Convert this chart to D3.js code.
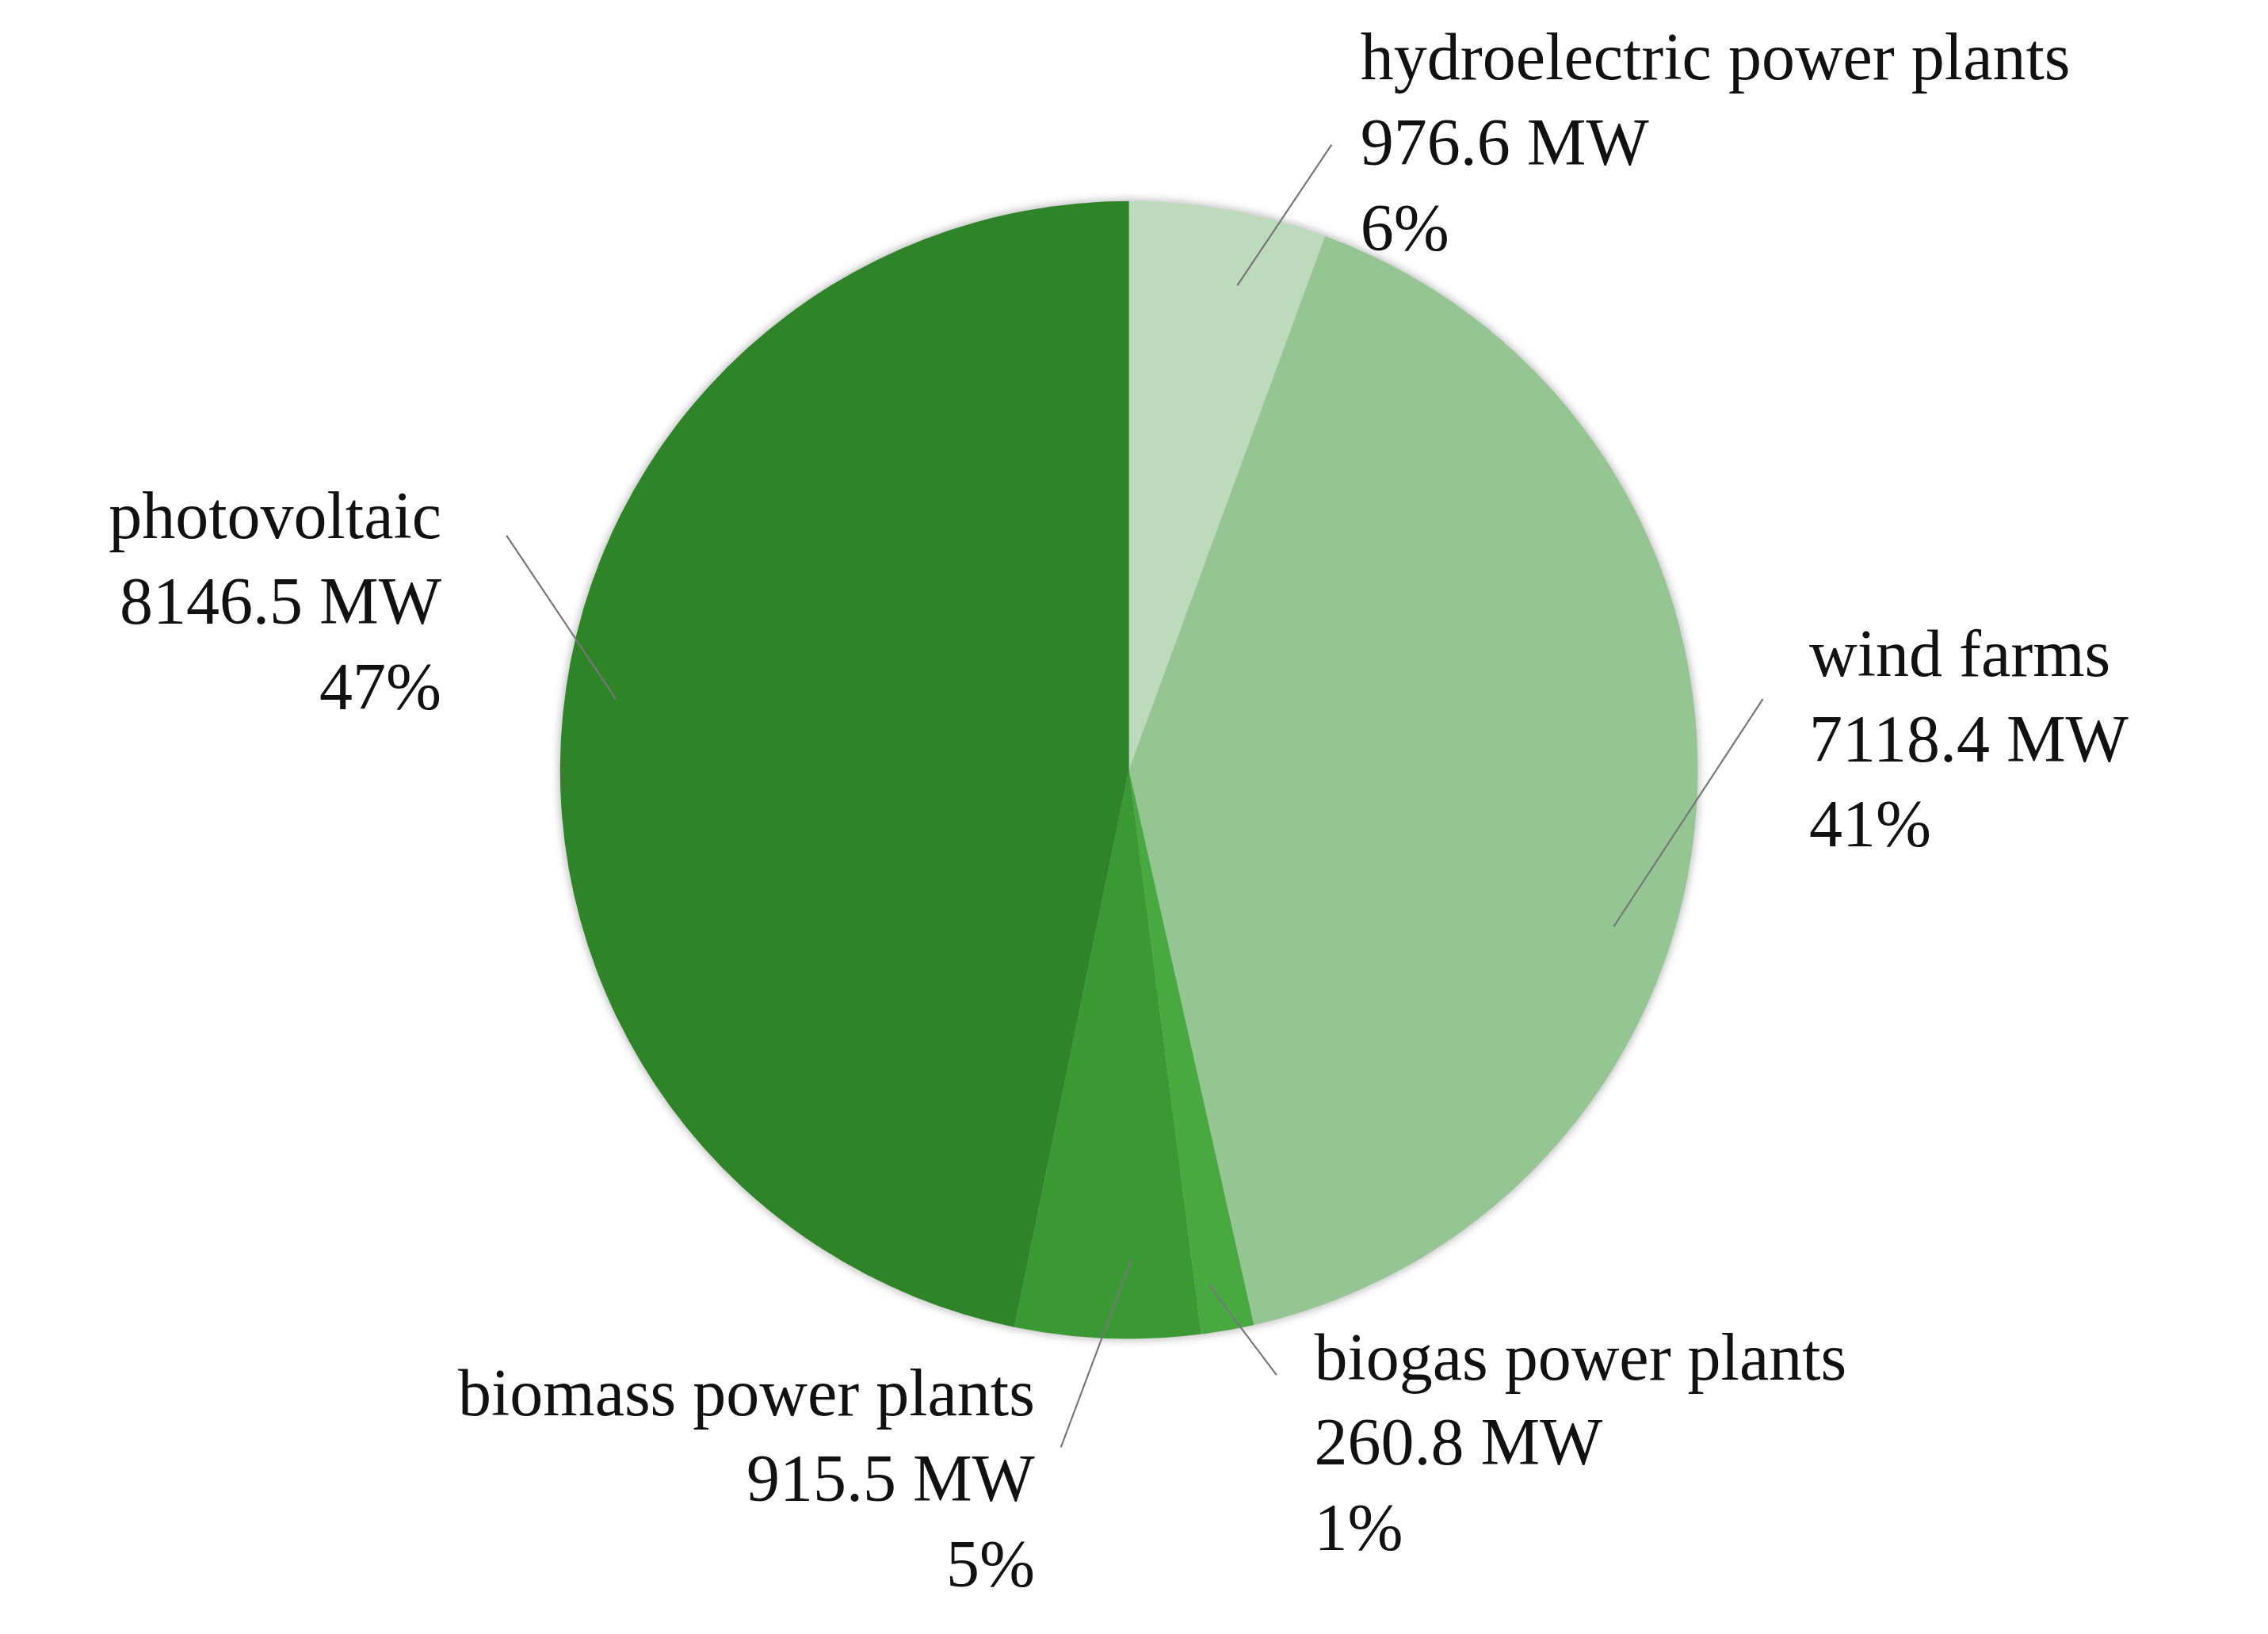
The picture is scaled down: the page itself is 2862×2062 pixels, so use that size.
<!DOCTYPE html>
<html>
<head>
<meta charset="utf-8">
<script src="https://cdn.jsdelivr.net/npm/d3@7"></script>
<style>
  body { margin: 0; background: #fff; }
  text { font-family: "Liberation Serif", "DejaVu Serif", serif; fill: #111; }
</style>
</head>
<body>
<div id="vis"></div>
<script>
// data, clockwise from 12 o'clock
var categories = ["hydroelectric power plants", "wind farms", "biogas power plants", "biomass power plants", "photovoltaic"];
var values = [976.6, 7118.4, 260.8, 915.5, 8146.5];
var percents = ["6%", "41%", "1%", "5%", "47%"];
var colors = ["#bddbbc", "#95c592", "#47a93f", "#3a9835", "#2f8329"];

// label placement (in 1567-wide layout units)
var labelPos = [
    { x: 940, y: 55, anchor: "start", lineAngle: 12.6, lineR: 343, ex: 920, ey: 100 },
    { x: 1250, y: 467, anchor: "start", lineAngle: 107.9, lineR: 352, ex: 1218, ey: 483 },
    { x: 908, y: 953, anchor: "start", lineAngle: 171.2, lineR: 360, ex: 882, ey: 950 },
    { x: 715, y: 978, anchor: "end", lineAngle: 179.7, lineR: 338, ex: 733, ey: 1000 },
    { x: 305, y: 372, anchor: "end", lineAngle: 277.9, lineR: 358, ex: 350, ey: 370 }
];

var W = 1567, H = 1129;
var cx = 780, cy = 532, radius = 393;

var svg = d3.select("#vis")
    .append("svg")
    .attr("width", 2862)
    .attr("height", 2062)
    .attr("viewBox", "0 0 " + W + " " + H);

var defs = svg.append("defs");
defs.append("filter").attr("id", "shadow")
    .attr("x", "-10%").attr("y", "-10%").attr("width", "120%").attr("height", "120%")
    .append("feGaussianBlur").attr("stdDeviation", 3);

var g = svg.append("g").attr("transform", "translate(" + cx + "," + cy + ")");

g.append("circle")
    .attr("r", radius + 1)
    .attr("fill", "#bbb")
    .attr("filter", "url(#shadow)");

var pie = d3.pie().sort(null)(values);
var arc = d3.arc().innerRadius(0).outerRadius(radius);

g.selectAll("path.slice")
    .data(pie)
    .enter()
    .append("path")
    .attr("class", "slice")
    .attr("d", arc)
    .attr("fill", (d, i) => colors[i]);

// leader lines
g.selectAll("line.leader")
    .data(labelPos)
    .enter()
    .append("line")
    .attr("class", "leader")
    .attr("x1", d => d.lineR * Math.sin(d.lineAngle * Math.PI / 180))
    .attr("y1", d => -d.lineR * Math.cos(d.lineAngle * Math.PI / 180))
    .attr("x2", d => d.ex - cx)
    .attr("y2", d => d.ey - cy)
    .attr("stroke", "#777")
    .attr("stroke-width", 1.2);

// labels
var lab = svg.selectAll("text.label")
    .data(labelPos)
    .enter()
    .append("text")
    .attr("class", "label")
    .attr("text-anchor", d => d.anchor)
    .attr("font-size", 46);

lab.each(function (d, i) {
    var t = d3.select(this);
    var lines = [categories[i], values[i].toFixed(1) + " MW", percents[i]];
    lines.forEach(function (s, k) {
        t.append("tspan").attr("x", d.x).attr("y", d.y + k * 59).text(s);
    });
});
</script>
</body>
</html>
